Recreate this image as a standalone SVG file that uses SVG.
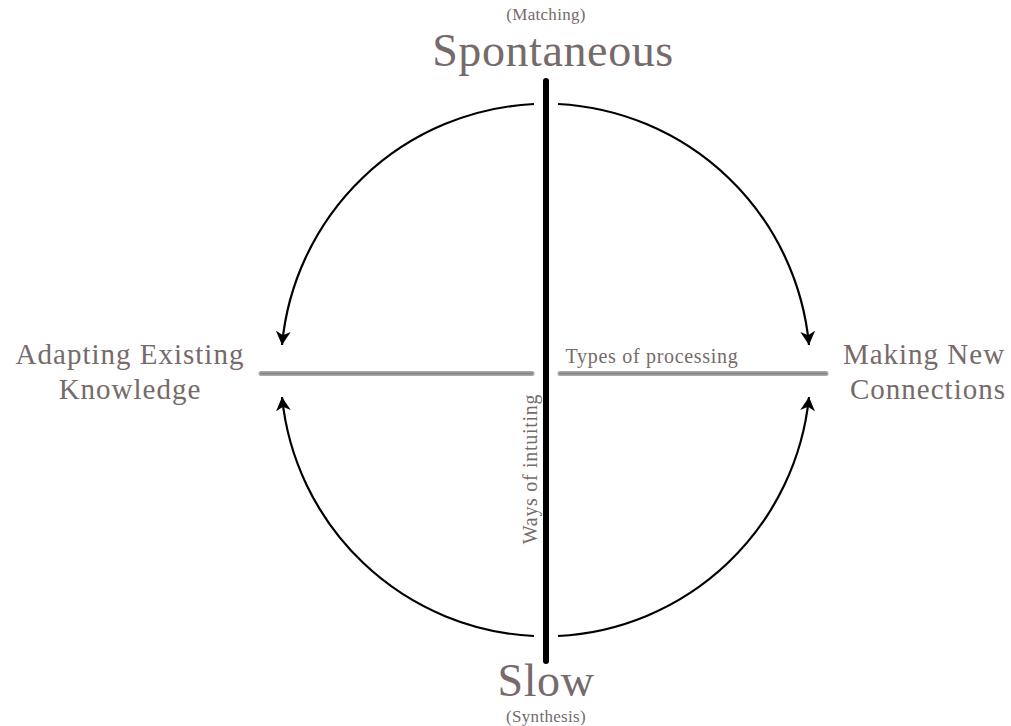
<svg xmlns="http://www.w3.org/2000/svg" width="1011" height="726" viewBox="0 0 1011 726">
<style>
.t{font-family:"Liberation Serif","Times New Roman",serif;fill:#766a6a;text-anchor:middle}
.big{font-size:46px;letter-spacing:0.6px}
.sm{font-size:17px;letter-spacing:0.3px}
.mid{font-size:29px;letter-spacing:1px}
.lab{font-size:20px;letter-spacing:0.7px}
.arc{fill:none;stroke:#000;stroke-width:2.2;marker-end:url(#ah)}
.hl{stroke:#a8a8a8;stroke-width:5;stroke-linecap:round}
.hc{stroke:#858585;stroke-width:2;stroke-linecap:round}
</style>
<defs>
<marker id="ah" markerUnits="userSpaceOnUse" markerWidth="16" markerHeight="16" refX="12" refY="6.5" orient="auto" viewBox="0 0 14 13">
<path d="M0,0 L12,6.5 L0,13 L3.5,6.5 z" fill="#000"/>
</marker>
</defs>
<g id="connectors">
<path class="arc" d="M534,104 A266,266 0 0 0 282,345"/>
<path class="arc" d="M558,104 A266,266 0 0 1 809,345"/>
<path class="arc" d="M534,636 A266,266 0 0 1 282,397"/>
<path class="arc" d="M558,636 A266,266 0 0 0 809,397"/>
</g>
<g id="axes">
<line x1="546" y1="81" x2="546" y2="661" stroke="#000" stroke-width="6" stroke-linecap="round"/>
<line class="hl" x1="261" y1="373.5" x2="532" y2="373.5"/>
<line class="hc" x1="261" y1="373.5" x2="532" y2="373.5"/>
<line class="hl" x1="560" y1="373.5" x2="826" y2="373.5"/>
<line class="hc" x1="560" y1="373.5" x2="826" y2="373.5"/>
</g>
<g id="spontaneous">
<text class="t sm" x="546" y="20">(Matching)</text>
<text class="t big" x="553" y="66">Spontaneous</text>
</g>
<g id="slow">
<text class="t big" x="546" y="696">Slow</text>
<text class="t sm" x="546" y="722">(Synthesis)</text>
</g>
<g id="adapting">
<text class="t mid" x="130" y="364">Adapting Existing</text>
<text class="t mid" x="130" y="399">Knowledge</text>
</g>
<g id="making">
<text class="t mid" x="924" y="364">Making New</text>
<text class="t mid" x="928" y="399">Connections</text>
</g>
<g id="types">
<text class="t lab" x="652" y="363">Types of processing</text>
</g>
<g id="ways">
<text class="t lab" transform="translate(537,469) rotate(-90)" x="0" y="0">Ways of intuiting</text>
</g>
</svg>
